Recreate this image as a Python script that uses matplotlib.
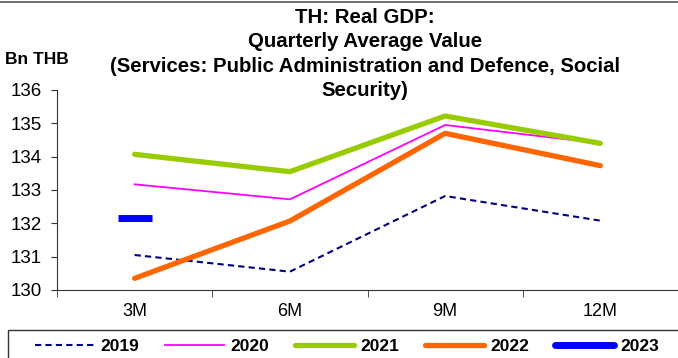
import matplotlib
matplotlib.use("Agg")
import matplotlib.pyplot as plt
from matplotlib.lines import Line2D
from matplotlib.patches import Rectangle

plt.rcParams['font.family'] = ['Liberation Sans', 'DejaVu Sans']

periods = ['3M', '6M', '9M', '12M']
y2019 = [131.05, 130.55, 132.82, 132.08]
y2020 = [133.17, 132.72, 134.95, 134.40]
y2021 = [134.07, 133.55, 135.22, 134.40]
y2022 = [130.35, 132.07, 134.70, 133.73]
y2023 = [132.17]

fig = plt.figure(figsize=(6.78, 3.58), dpi=100)
ax = fig.add_axes([57 / 678, 1 - 290 / 358, 1 - 57 / 678, 200 / 358])

x = list(range(len(periods)))
ax.plot(x, y2019, color='#000080', lw=1.5, ls=(0, (3, 2)), label='2019')
ax.plot(x, y2020, color='#FF00FF', lw=1.3, label='2020')
ax.plot(x, y2021, color='#99CC00', lw=3.8, solid_capstyle='round', label='2021')
ax.plot(x, y2022, color='#FF6600', lw=3.8, solid_capstyle='round', label='2022')
ax.plot(x[:1], y2023, color='#0000FF', ls='none', marker='_', ms=24, mew=5, label='2023')

ax.set_xlim(-0.5, 3.5)
ax.set_ylim(130, 136)
ax.set_yticks(range(130, 137))
ax.set_xticks(x)
ax.set_xticklabels(periods)
ax.set_xticks([i - 0.5 for i in range(5)], minor=True)
ax.tick_params(axis='x', which='major', length=0, pad=9, labelsize=13)
ax.tick_params(axis='x', which='minor', length=5, direction='out', color='#333333')
ax.tick_params(axis='y', length=4, direction='out', labelsize=13.5, color='#333333', pad=7)
for s in ['top', 'right']:
    ax.spines[s].set_visible(False)
for s in ['left', 'bottom']:
    ax.spines[s].set_color('#333333')

fig.text(365 / 678, 1 - 8 / 358, 'TH: Real GDP:\nQuarterly Average Value\n(Services: Public Administration and Defence, Social\nSecurity)',
         ha='center', va='top', fontsize=14.7, fontweight='bold', linespacing=1.36)
fig.text(5 / 678, 1 - 60 / 358, 'Bn THB', ha='left', va='center', fontsize=12.5, fontweight='bold')

# top border line
fig.add_artist(Line2D([0, 1], [1 - 2 / 358, 1 - 2 / 358], color='#555555', lw=1.2))

# legend box, running off the bottom and right edge
fig.add_artist(Rectangle((8 / 678, -0.05), 1.0, 1 - 330 / 358 + 0.05,
                         transform=fig.transFigure, fill=False,
                         edgecolor='#333333', lw=1.0))

handles = [
    Line2D([], [], color='#000080', lw=1.5, ls=(0, (3, 2))),
    Line2D([], [], color='#FF00FF', lw=1.3),
    Line2D([], [], color='#99CC00', lw=3.8, solid_capstyle='round'),
    Line2D([], [], color='#FF6600', lw=3.8, solid_capstyle='round'),
    Line2D([], [], color='#0000FF', lw=5, solid_capstyle='round'),
]
leg = fig.legend(handles, ['2019', '2020', '2021', '2022', '2023'],
                 loc='center left', bbox_to_anchor=(35 / 678, 1 - 346 / 358),
                 ncol=5, frameon=False,
                 prop={'weight': 'bold', 'size': 12.5}, handlelength=3.4,
                 columnspacing=1.5, handletextpad=0.35, borderpad=0,
                 borderaxespad=0)

fig.savefig('out.png', dpi=100)
